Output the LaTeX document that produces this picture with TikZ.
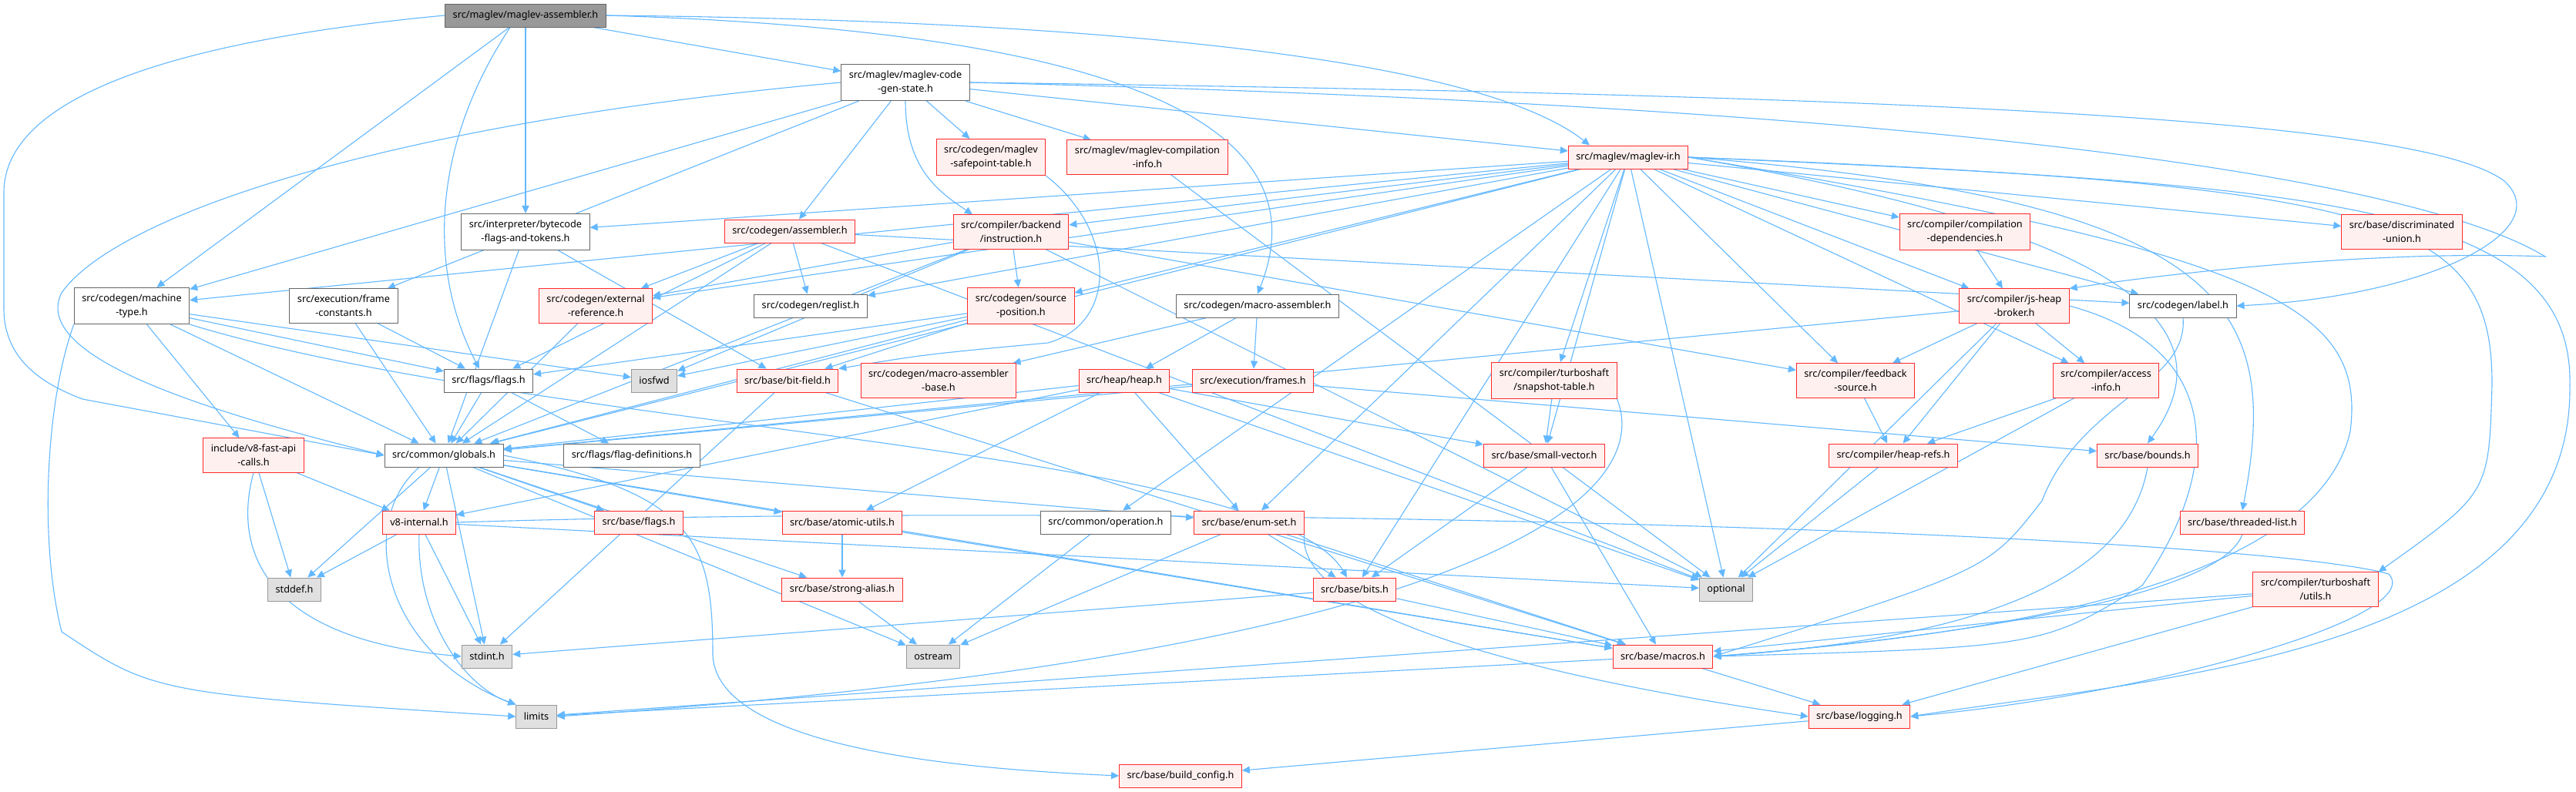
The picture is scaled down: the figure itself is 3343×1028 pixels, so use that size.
\documentclass[tikz,border=0pt]{standalone}
\usepackage{fontspec}
\setmainfont{Noto Sans}
\usepackage{xcolor}
\usepackage{tikz}
\usetikzlibrary{positioning, arrows.meta, backgrounds}
\definecolor{edgeblue}{HTML}{63B8FF}
\definecolor{truncred}{HTML}{FF2A2A}
\definecolor{truncfill}{HTML}{FFF0F0}
\definecolor{sysfill}{HTML}{E0E0E0}

\begin{document}
\begin{tikzpicture}[
        x=0.5pt, y=-0.5pt,
        hdr/.style   = {draw=black!60, fill=white, line width=0.5pt, inner xsep=5pt, inner ysep=4pt, minimum height=15pt, align=center, font=\fontsize{6.35}{9.2}\selectfont},
        root/.style  = {hdr, fill=black!40, draw=black!60},
        trunc/.style = {hdr, draw=truncred, fill=truncfill},
        sys/.style   = {hdr, draw=black!40, fill=sysfill},
        arrow/.style = {draw=edgeblue, line width=0.55pt, -{Triangle[length=5pt, width=4.6pt]}},
    ]
        \useasboundingbox (0,0) rectangle (3343,1028);

        % Top of the graph
        \node[root]  (maglevasm)     at (682,20)   {src/maglev/maglev-assembler.h};
        \node[hdr]   (codegenstate)  at (1175,107) {src/maglev/maglev-code\\-gen-state.h};
        \node[trunc] (safepoint)     at (1286,204) {src/codegen/maglev\\-safepoint-table.h};
        \node[trunc] (compinfo)      at (1489,204) {src/maglev/maglev-compilation\\-info.h};
        \node[trunc] (maglevir)      at (2113,204) {src/maglev/maglev-ir.h};
        % Codegen and compiler headers
        \node[hdr]   (bytecodeflags) at (682,301)  {src/interpreter/bytecode\\-flags-and-tokens.h};
        \node[trunc] (assembler)     at (1025,300) {src/codegen/assembler.h};
        \node[trunc] (instruction)   at (1312,301) {src/compiler/backend\\/instruction.h};
        \node[trunc] (compdeps)      at (2550,301) {src/compiler/compilation\\-dependencies.h};
        \node[trunc] (discunion)     at (3117,301) {src/base/discriminated\\-union.h};
        \node[hdr]   (machinetype)   at (171,397)  {src/codegen/machine\\-type.h};
        \node[hdr]   (frameconst)    at (446,397)  {src/execution/frame\\-constants.h};
        \node[trunc] (extref)        at (773,397)  {src/codegen/external\\-reference.h};
        \node[hdr]   (reglist)       at (1052,397) {src/codegen/reglist.h};
        \node[trunc] (sourcepos)     at (1325,397) {src/codegen/source\\-position.h};
        \node[hdr]   (macroasm)      at (1632,397) {src/codegen/macro-assembler.h};
        \node[trunc] (jsheapbroker)  at (2614,397) {src/compiler/js-heap\\-broker.h};
        \node[hdr]   (label)         at (2833,397) {src/codegen/label.h};
        \node[hdr]   (flags)         at (634,494)  {src/flags/flags.h};
        \node[sys]   (iosfwd)        at (849,494)  {iosfwd};
        \node[trunc] (bitfield)      at (1022,494) {src/base/bit-field.h};
        \node[trunc] (masmbase)      at (1218,494) {src/codegen/macro-assembler\\-base.h};
        \node[trunc] (heap)          at (1459,494) {src/heap/heap.h};
        \node[trunc] (frames)        at (1626,494) {src/execution/frames.h};
        \node[trunc] (snapshot)      at (2017,494) {src/compiler/turboshaft\\/snapshot-table.h};
        \node[trunc] (feedback)      at (2408,494) {src/compiler/feedback\\-source.h};
        \node[trunc] (accessinfo)    at (2733,494) {src/compiler/access\\-info.h};
        % Common and base headers
        \node[trunc] (fastapi)       at (329,591)  {include/v8-fast-api\\-calls.h};
        \node[hdr]   (globals)       at (576,591)  {src/common/globals.h};
        \node[hdr]   (flagdefs)      at (820,591)  {src/flags/flag-definitions.h};
        \node[trunc] (smallvec)      at (2004,591) {src/base/small-vector.h};
        \node[trunc] (heaprefs)      at (2457,591) {src/compiler/heap-refs.h};
        \node[trunc] (bounds)        at (2787,591) {src/base/bounds.h};
        \node[trunc] (v8internal)    at (544,678)  {v8-internal.h};
        \node[trunc] (baseflags)     at (829,678)  {src/base/flags.h};
        \node[trunc] (atomic)        at (1093,678) {src/base/atomic-utils.h};
        \node[hdr]   (operation)     at (1435,678) {src/common/operation.h};
        \node[trunc] (enumset)       at (1621,678) {src/base/enum-set.h};
        \node[trunc] (threaded)      at (2910,678) {src/base/threaded-list.h};
        \node[sys]   (stddef)        at (382,765)  {stddef.h};
        \node[trunc] (strongalias)   at (1093,765) {src/base/strong-alias.h};
        \node[trunc] (bits)          at (1758,765) {src/base/bits.h};
        \node[sys]   (optional)      at (2240,765) {optional};
        \node[trunc] (tsutils)       at (3005,765) {src/compiler/turboshaft\\/utils.h};
        \node[sys]   (stdint)        at (632,852)  {stdint.h};
        \node[sys]   (ostream)       at (1211,852) {ostream};
        \node[trunc] (macros)        at (2158,852) {src/base/macros.h};
        \node[sys]   (limits)        at (696,930)  {limits};
        \node[trunc] (logging)       at (2413,930) {src/base/logging.h};
        \node[trunc] (buildconfig)   at (1532,1007) {src/base/build\_config.h};

        \begin{scope}[on background layer]
        \fill[white] (0,0) rectangle (3343,1028);

        % maglev-assembler.h
        \draw[arrow] (maglevasm) -- (codegenstate);
        \draw[arrow] (maglevasm.east) .. controls (1300,25) and (1900,60) .. ([xshift=-25pt]maglevir.north);
        \draw[arrow] (maglevasm.east) .. controls (1450,40) and (1720,160) .. (macroasm.north);
        \draw[arrow] (maglevasm) -- (bytecodeflags);
        \draw[arrow] ([xshift=-10pt]maglevasm.south) .. controls (560,190) and (555,350) .. ([xshift=-6pt]flags.north);
        \draw[arrow] (maglevasm) -- (machinetype);
        \draw[arrow] (maglevasm.west) .. controls (150,60) and (5,150) .. (5,250) -- (5,400) .. controls (5,470) and (60,500) .. (107,518) -- (globals.west);

        % maglev-code-gen-state.h
        \draw[arrow] (codegenstate) -- (maglevir);
        \draw[arrow] (codegenstate) -- (safepoint);
        \draw[arrow] (codegenstate) -- (compinfo);
        \draw[arrow] (codegenstate) -- (assembler);
        \draw[arrow] (codegenstate.south) .. controls (1175,220) and (1220,250) .. ([xshift=-25pt]instruction.north);
        \draw[arrow] (codegenstate) -- (machinetype);
        \draw[arrow] (codegenstate) -- (frameconst);
        \draw[arrow] (codegenstate.west) .. controls (500,160) and (150,280) .. (80,380) .. controls (40,460) and (250,530) .. (globals.west);
        \draw[arrow] (codegenstate.east) .. controls (2600,125) and (3150,160) .. (3250,235) .. controls (3320,300) and (3150,385) .. (label.east);
        \draw[arrow] (codegenstate.east) .. controls (2600,140) and (3150,240) .. (3303,333) .. controls (3100,325) and (2850,350) .. (jsheapbroker.north east);

        % maglev-ir.h
        \draw[arrow] (maglevir) -- (bytecodeflags);
        \draw[arrow] (maglevir) -- (machinetype);
        \draw[arrow] (maglevir) -- (extref);
        \draw[arrow] (maglevir) -- (reglist);
        \draw[arrow] (maglevir) -- (sourcepos);
        \draw[arrow] (maglevir) -- (instruction);
        \draw[arrow] (maglevir) -- (globals);
        \draw[arrow] (maglevir) -- (compdeps);
        \draw[arrow] (maglevir) -- (jsheapbroker);
        \draw[arrow] (maglevir) -- (label);
        \draw[arrow] (maglevir) -- (discunion);
        \draw[arrow] (maglevir) -- (feedback);
        \draw[arrow] (maglevir) -- (accessinfo);
        \draw[arrow] (maglevir) -- (snapshot);
        \draw[arrow] (maglevir) -- (smallvec);
        \draw[arrow] (maglevir) -- (operation);
        \draw[arrow] (maglevir) -- (enumset);
        \draw[arrow] (maglevir) -- (bits);
        \draw[arrow] (maglevir) -- (optional);
        \draw[arrow] (maglevir.east) .. controls (2750,300) and (2900,420) .. (bounds.north);
        \draw[arrow] (maglevir.east) .. controls (2900,260) and (2960,400) .. (threaded.north);
        \draw[arrow] (maglevir.east) .. controls (3100,240) and (3235,280) .. (3234,500) .. controls (3230,640) .. (tsutils.north east);
        \draw[arrow] (maglevir.east) .. controls (2950,330) and (3070,400) .. (3050,560) .. controls (3000,780) and (2500,830) .. (macros.east);
        \draw[arrow] (maglevir.east) .. controls (3000,240) and (3340,260) .. (3335,500) .. controls (3340,850) and (2800,880) .. (logging.east);

        % Codegen and compiler headers
        \draw[arrow] (bytecodeflags) -- (globals);
        \draw[arrow] (bytecodeflags) -- (bitfield);
        \draw[arrow] (safepoint.south east) .. controls (1450,300) and (1450,420) .. (1360,445) .. controls (1200,460) .. (bitfield.north east);
        \draw[arrow] (compinfo) -- (optional);
        \draw[arrow] (assembler) -- (extref);
        \draw[arrow] (assembler) -- (reglist);
        \draw[arrow] (assembler) -- (label);
        \draw[arrow] (assembler) -- (flags);
        \draw[arrow] (assembler) -- (globals);
        \draw[arrow] (assembler) -- (optional);
        \draw[arrow] (instruction) -- (extref);
        \draw[arrow] (instruction) -- (sourcepos);
        \draw[arrow] (instruction) -- (feedback);
        \draw[arrow] (instruction) -- (optional);
        \draw[arrow] (instruction) -- (globals);
        \draw[arrow] (instruction) -- (iosfwd);
        \draw[arrow] (compdeps) -- (jsheapbroker);
        \draw[arrow] (machinetype.south west) .. controls (60,520) and (50,700) .. (80,820) .. controls (200,900) .. (limits.west);
        \draw[arrow] (machinetype) -- (fastapi);
        \draw[arrow] (machinetype) -- (globals);
        \draw[arrow] (machinetype) -- (flags);
        \draw[arrow] (machinetype) -- (iosfwd);
        \draw[arrow] (machinetype.south east) .. controls (700,560) and (1650,580) .. ([xshift=-5pt]bits.north);
        \draw[arrow] (frameconst) -- (flags);
        \draw[arrow] (frameconst) -- (globals);
        \draw[arrow] (extref) -- (globals);
        \draw[arrow] (sourcepos) -- (iosfwd);
        \draw[arrow] (sourcepos) -- (bitfield);
        \draw[arrow] (sourcepos) -- (flags);
        \draw[arrow] (sourcepos) -- (globals);
        \draw[arrow] (macroasm) -- (masmbase);
        \draw[arrow] (macroasm) -- (heap);
        \draw[arrow] (macroasm) -- (frames);
        \draw[arrow] (jsheapbroker) -- (globals);
        \draw[arrow] (jsheapbroker) -- (feedback);
        \draw[arrow] (jsheapbroker) -- (heaprefs);
        \draw[arrow] (jsheapbroker) -- (optional);
        \draw[arrow] (jsheapbroker) -- (accessinfo);
        \draw[arrow] (jsheapbroker.east) .. controls (2880,450) and (2890,600) .. (2780,760) .. controls (2650,840) .. (macros.east);
        \draw[arrow] (label.south) .. controls (2840,500) and (2700,520) .. (2650,650) .. controls (2580,740) .. (macros.east);
        \draw[arrow] (flags) -- (globals);
        \draw[arrow] (flags) -- (flagdefs);
        \draw[arrow] (bitfield) -- (stdint);
        \draw[arrow] (bitfield) -- (macros);
        \draw[arrow] (heap) -- (globals);
        \draw[arrow] (heap) -- (v8internal);
        \draw[arrow] (heap) -- (atomic);
        \draw[arrow] (heap) -- (enumset);
        \draw[arrow] (heap) -- (smallvec);
        \draw[arrow] (heap) -- (optional);
        \draw[arrow] (frames) -- (globals);
        \draw[arrow] (frames) -- (bounds);
        \draw[arrow] (snapshot) -- (smallvec);
        \draw[arrow] (snapshot.south east) .. controls (2150,650) and (1900,850) .. (limits.east);
        \draw[arrow] (feedback) -- (heaprefs);
        \draw[arrow] (accessinfo) -- (heaprefs);
        \draw[arrow] (accessinfo) -- (optional);

        % Common and base headers
        \draw[arrow] (fastapi) -- (v8internal);
        \draw[arrow] (fastapi) -- (stddef);
        \draw[arrow] (fastapi.south) .. controls (300,720) and (350,830) .. (stdint.west);
        \draw[arrow] (globals) -- (v8internal);
        \draw[arrow] (globals) -- (stddef);
        \draw[arrow] (globals) -- (stdint);
        \draw[arrow] ([xshift=-16pt]globals.south) .. controls (460,680) and (500,850) .. (limits.north west);
        \draw[arrow] (globals) -- (baseflags);
        \draw[arrow] (globals) -- (atomic);
        \draw[arrow] (globals) -- (strongalias);
        \draw[arrow] (globals) -- (enumset);
        \draw[arrow] (globals) -- (ostream);
        \draw[arrow] (globals) -- (macros);
        \draw[arrow] (globals.east) .. controls (900,640) and (925,700) .. (925,850) .. controls (930,980) and (1300,1000) .. (buildconfig.west);
        \draw[arrow] (v8internal) -- (stddef);
        \draw[arrow] (v8internal) -- (stdint);
        \draw[arrow] (v8internal.south) .. controls (540,800) and (600,890) .. (limits.north west);
        \draw[arrow] (v8internal) -- (optional);
        \draw[arrow] (v8internal.east) .. controls (1500,650) and (2900,690) .. (3100,745) .. controls (3150,800) and (2800,900) .. (logging.east);
        \draw[arrow] (atomic) -- (strongalias);
        \draw[arrow] (atomic) -- (macros);
        \draw[arrow] (operation) -- (ostream);
        \draw[arrow] (enumset) -- (ostream);
        \draw[arrow] (enumset) -- (bits);
        \draw[arrow] (enumset) -- (macros);
        \draw[arrow] (enumset.south east) .. controls (1680,800) and (2000,880) .. (logging.west);
        \draw[arrow] (strongalias) -- (ostream);
        \draw[arrow] (threaded.south) .. controls (2880,780) and (2500,830) .. (macros.east);
        \draw[arrow] (smallvec) -- (bits);
        \draw[arrow] (smallvec) -- (macros);
        \draw[arrow] (heaprefs) -- (optional);
        \draw[arrow] (bounds.south) .. controls (2760,760) and (2550,830) .. (macros.east);
        \draw[arrow] (tsutils) -- (macros);
        \draw[arrow] (tsutils) -- (limits);
        \draw[arrow] (tsutils) -- (logging);
        \draw[arrow] (bits) -- (stdint);
        \draw[arrow] (bits) -- (macros);
        \draw[arrow] (macros) -- (logging);
        \draw[arrow] (macros) -- (limits);
        \draw[arrow] (logging) -- (buildconfig);
        \end{scope}
    \end{tikzpicture}
\end{document}
